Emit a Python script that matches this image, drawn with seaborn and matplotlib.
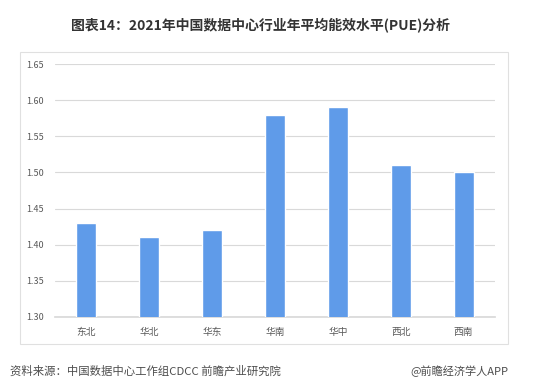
import matplotlib
matplotlib.use("Agg")
import matplotlib.pyplot as plt
import matplotlib.patches as mpatches
import seaborn as sns
import pandas as pd

categories = ["东北", "华北", "华东", "华南", "华中", "西北", "西南"]
values = [1.43, 1.41, 1.42, 1.58, 1.59, 1.51, 1.50]
yticks = [1.30, 1.35, 1.40, 1.45, 1.50, 1.55, 1.60, 1.65]

sns.set_theme(style="white")
plt.rcParams['font.family'] = ['Noto Sans CJK SC', 'DejaVu Sans']

df = pd.DataFrame({"region": categories, "pue": values})

W, H = 534, 381
fig = plt.figure(figsize=(W / 100, H / 100), dpi=100)
ax = fig.add_axes([55 / W, (H - 317) / H, 440 / W, 253 / H])

sns.barplot(data=df, x="region", y="pue", color="#5F9BE9", width=0.32,
            saturation=1, ax=ax, zorder=3)

ax.set_ylim(1.30, 1.65)
ax.set_yticks(yticks)
ax.set_yticklabels([f"{t:.2f}" for t in yticks])
ax.yaxis.grid(True, color="#D9D9D9", linewidth=0.8, zorder=0)
ax.set_axisbelow(True)
ax.set_xlabel("")
ax.set_ylabel("")
for s in ax.spines.values():
    s.set_visible(False)
ax.spines['bottom'].set_visible(True)
ax.spines['bottom'].set_color("#D9D9D9")
ax.tick_params(axis='both', length=0, colors="#595959")
ax.tick_params(axis='y', pad=8, labelsize=6.5)
ax.tick_params(axis='x', pad=7, labelsize=7)
ax.set_xlim(-0.5, 6.5)

# outer frame
rect = mpatches.Rectangle((20 / W, (H - 344) / H), 488 / W, 292 / H,
                          transform=fig.transFigure, fill=False,
                          edgecolor="#E0E0E0", linewidth=0.8)
fig.patches.append(rect)

fig.text(260 / W, (H - 26) / H, "图表14：2021年中国数据中心行业年平均能效水平(PUE)分析",
         ha="center", va="center", fontsize=10, fontweight="bold", color="#333333")
fig.text(10 / W, (H - 371) / H, "资料来源：中国数据中心工作组CDCC 前瞻产业研究院",
         ha="left", va="center", fontsize=8.2, color="#4D4D4D")
fig.text(508 / W, (H - 371) / H, "@前瞻经济学人APP",
         ha="right", va="center", fontsize=8, color="#4D4D4D")

fig.savefig("out.png", dpi=100, facecolor="white")
